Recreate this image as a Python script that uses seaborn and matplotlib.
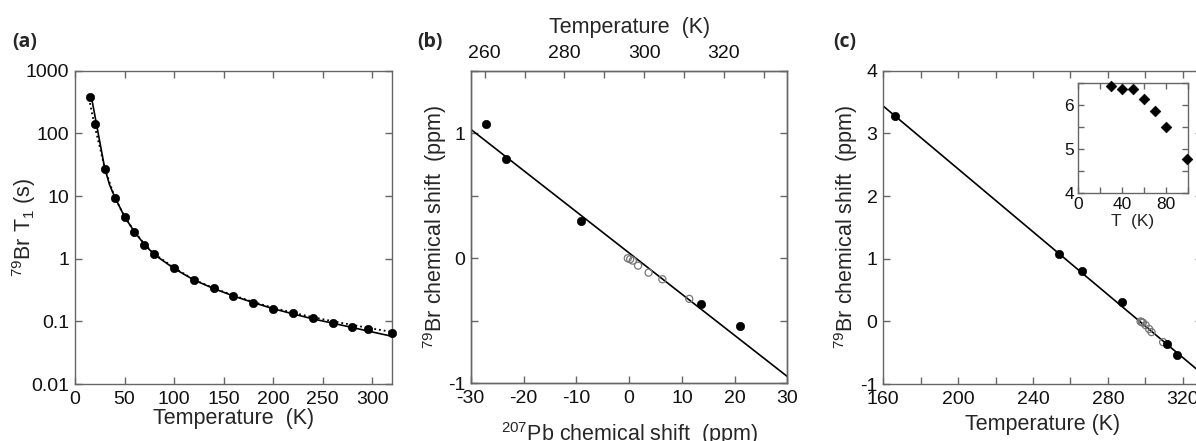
import matplotlib
matplotlib.use("Agg")
import matplotlib.pyplot as plt
import seaborn as sns

sns.set_style("ticks")
plt.rcParams['font.family'] = ['Liberation Sans', 'DejaVu Sans']
plt.rcParams['mathtext.fontset'] = 'custom'
plt.rcParams['mathtext.rm'] = 'Liberation Sans'
plt.rcParams['mathtext.it'] = 'Liberation Sans:italic'
plt.rcParams['axes.edgecolor'] = '#666666'
plt.rcParams['axes.linewidth'] = 1.0
plt.rcParams['axes.unicode_minus'] = False

# ---- panel (a): 79Br T1 vs temperature
t1_temp = [15, 20, 30, 40, 50, 60, 70, 80, 100, 120, 140, 160, 180, 200,
           220, 240, 260, 280, 296, 320]
t1_vals = [375, 141, 26.6, 9.3, 4.6, 2.7, 1.65, 1.19, 0.72, 0.457, 0.34,
           0.254, 0.199, 0.159, 0.134, 0.112, 0.094, 0.082, 0.0755, 0.0645]
solid_temp = [16.2, 20, 25, 30, 35, 40, 50, 60, 70, 80, 100, 120, 140, 160,
              180, 200, 220, 240, 260, 280, 300, 320]
solid_vals = [410, 196, 74, 28, 15, 9.8, 4.7, 2.7, 1.7, 1.17, 0.70, 0.46,
              0.335, 0.255, 0.2, 0.16, 0.132, 0.11, 0.094, 0.08, 0.068, 0.058]
dot_temp = [14.1, 20, 25, 30, 40, 50, 60, 70, 80, 100, 120, 140, 160, 180,
            200, 220, 240, 260, 280, 300, 320]
dot_vals = [363, 128, 61, 28, 9.6, 4.7, 2.75, 1.72, 1.2, 0.72, 0.465, 0.34,
            0.26, 0.205, 0.165, 0.138, 0.117, 0.101, 0.088, 0.077, 0.068]
a_yticks = [0.01, 0.1, 1, 10, 100, 1000]
a_yticklabels = ['0.01', '0.1', '1', '10', '100', '1000']

# ---- panel (b): 79Br shift vs 207Pb shift
pb_filled = [-27.2, -23.4, -9.2, 13.6, 21.0]
br_filled = [1.075, 0.792, 0.299, -0.363, -0.539]
pb_open = [-0.25, 0.2, 0.7, 1.7, 3.7, 6.3, 11.4]
br_open = [0.0, -0.008, -0.019, -0.059, -0.115, -0.168, -0.325]
b_line_x = [-30, 30]
b_line_y = [1.032, -0.947]
b_top_ticks = [260, 270, 280, 290, 300, 310, 320, 330]
b_top_labels = ['260', '', '280', '', '300', '', '320', '']

# ---- panel (c): 79Br shift vs temperature
c_temp_filled = [166.2, 254, 266.3, 287.3, 311.3, 317]
c_shift_filled = [3.28, 1.074, 0.798, 0.303, -0.367, -0.537]
c_temp_open = [297.4, 298.0, 298.6, 300.1, 301.9, 303.2, 309.4]
c_shift_open = [0.0, -0.01, -0.02, -0.06, -0.12, -0.17, -0.33]
c_line_x = [160, 330]
c_line_y = [3.44, -0.83]

# ---- inset
ins_temp = [30, 40, 50, 60, 70, 80, 99]
ins_shift = [6.43, 6.37, 6.36, 6.14, 5.87, 5.50, 4.77]

TICK = 14
LAB = 15.5


def style(ax, size=TICK, length=5, pad=5):
    ax.tick_params(direction='in', top=True, right=True, length=length,
                   width=1, color='#666666', labelsize=size, pad=pad,
                   labelcolor='#111111')
    for s in ax.spines.values():
        s.set_visible(True)


fig = plt.figure(figsize=(11.96, 4.41), dpi=100)

# ============ (a)
ax_a = fig.add_axes([0.0627, 0.129, 0.265, 0.7105])
sns.lineplot(x=solid_temp, y=solid_vals, ax=ax_a, color='black', lw=1.2,
             sort=False, estimator=None)
sns.lineplot(x=dot_temp, y=dot_vals, ax=ax_a, color='black', lw=1.3,
             linestyle=':', sort=False, estimator=None)
sns.scatterplot(x=t1_temp, y=t1_vals, ax=ax_a, color='black', s=36,
                edgecolor='black', zorder=3, clip_on=False)
ax_a.set_yscale('log')
ax_a.set_xlim(0, 320)
ax_a.set_ylim(0.01, 1000)
ax_a.set_xticks(range(0, 301, 50))
ax_a.set_yticks(a_yticks)
ax_a.set_yticklabels(a_yticklabels)
ax_a.minorticks_off()
style(ax_a)
ax_a.tick_params(axis='y', pad=4)
ax_a.set_xlabel('Temperature  (K)', fontsize=LAB, labelpad=0)
ax_a.set_ylabel('$^{79}$Br T$_1$ (s)', fontsize=LAB, labelpad=-9)

# ============ (b)
ax_b = fig.add_axes([0.3936, 0.131, 0.2648, 0.7085])
sns.lineplot(x=b_line_x, y=b_line_y, ax=ax_b, color='black', lw=1.2)
sns.scatterplot(x=pb_open, y=br_open, ax=ax_b, s=26, facecolor='none',
                edgecolor='#777777', linewidth=0.9, zorder=3)
sns.scatterplot(x=pb_filled, y=br_filled, ax=ax_b, color='black', s=36,
                edgecolor='black', zorder=3)
ax_b.set_xlim(-30, 30)
ax_b.set_ylim(-1, 1.5)
ax_b.set_xticks(range(-30, 31, 10))
ax_b.set_yticks([-1, -0.5, 0, 0.5, 1, 1.5])
ax_b.set_yticklabels(['-1', '', '0', '', '1', ''])
style(ax_b)
ax_b.tick_params(top=False)
ax_b.tick_params(axis='y', pad=4)
ax_b.set_xlabel('$^{207}$Pb chemical shift  (ppm)', fontsize=LAB, labelpad=9)
ax_b.set_ylabel('$^{79}$Br chemical shift  (ppm)', fontsize=LAB, labelpad=-1)

ax_bt = ax_b.twiny()
ax_bt.set_xlim(256.5, 336)
ax_bt.set_xticks(b_top_ticks)
ax_bt.set_xticklabels(b_top_labels)
ax_bt.tick_params(direction='in', length=5, width=1, color='#666666',
                  labelsize=TICK, pad=6, labelcolor='#111111')
ax_bt.set_xlabel('Temperature  (K)', fontsize=LAB, labelpad=9)

# ============ (c)
ax_c = fig.add_axes([0.7383, 0.129, 0.2665, 0.7105])
sns.lineplot(x=c_line_x, y=c_line_y, ax=ax_c, color='black', lw=1.2)
sns.scatterplot(x=c_temp_open, y=c_shift_open, ax=ax_c, s=26,
                facecolor='none', edgecolor='#777777', linewidth=0.9, zorder=3)
sns.scatterplot(x=c_temp_filled, y=c_shift_filled, ax=ax_c, color='black',
                s=36, edgecolor='black', zorder=3)
ax_c.set_xlim(160, 330)
ax_c.set_ylim(-1, 4)
ax_c.set_xticks(range(160, 331, 20))
ax_c.set_xticklabels([str(t) if t % 40 == 0 else '' for t in range(160, 331, 20)])
ax_c.set_yticks(range(-1, 5))
style(ax_c)
ax_c.tick_params(axis='y', pad=4)
ax_c.set_xlabel('Temperature (K)', fontsize=LAB, labelpad=4)
ax_c.set_ylabel('$^{79}$Br chemical shift  (ppm)', fontsize=LAB, labelpad=0)

# inset
ax_i = fig.add_axes([0.9013, 0.5624, 0.092, 0.2494])
sns.scatterplot(x=ins_temp, y=ins_shift, ax=ax_i, marker='D', color='black',
                s=30, edgecolor='black', clip_on=False, zorder=3)
ax_i.set_xlim(0, 100)
ax_i.set_ylim(4, 6.5)
ax_i.set_xticks(range(0, 101, 20))
ax_i.set_xticklabels(['0', '', '40', '', '80', ''])
ax_i.set_yticks([4, 4.5, 5, 5.5, 6, 6.5])
ax_i.set_yticklabels(['4', '', '5', '', '6', ''])
style(ax_i, size=12.5, length=4, pad=3)
ax_i.set_xlabel('T  (K)', fontsize=12.5, labelpad=1)

# panel labels
for xp, lab in [(0.010, '(a)'), (0.349, '(b)'), (0.697, '(c)')]:
    fig.text(xp, 0.905, lab, fontsize=14, fontweight='bold',
             family=['Open Sans', 'DejaVu Sans'], va='center', ha='left')

fig.savefig('out.png', dpi=100)
